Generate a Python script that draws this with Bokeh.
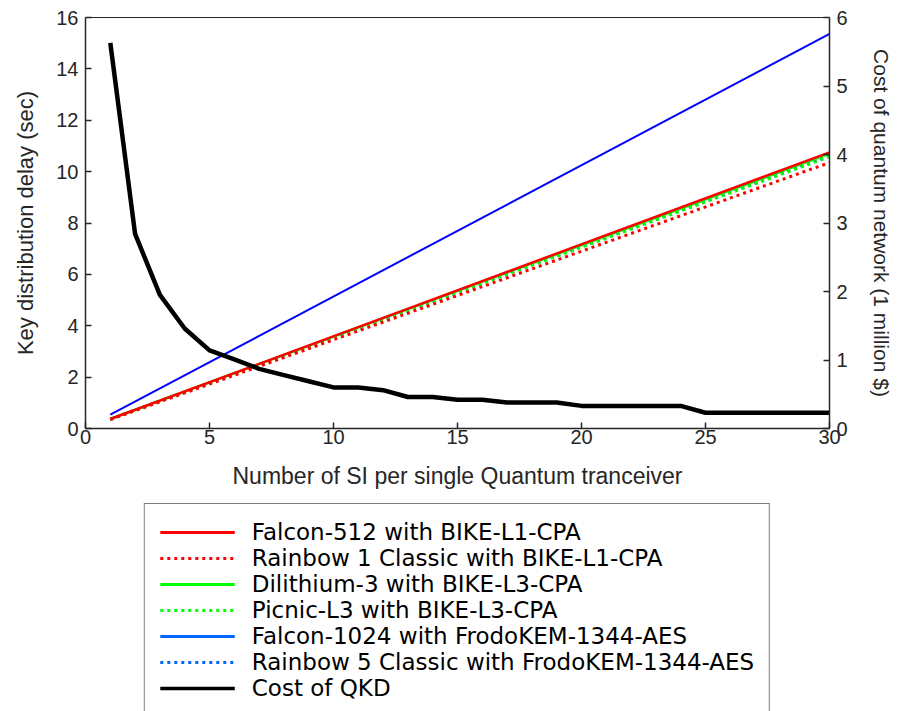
from bokeh.plotting import figure
from bokeh.layouts import column
from bokeh.models import Range1d, LinearAxis, Legend, LegendItem, FixedTicker
from bokeh.embed import file_html
from bokeh.resources import INLINE

# ---- data ----
si = list(range(1, 31))
qkd_cost = [5.63, 2.84, 1.95, 1.46, 1.14, 1.01, 0.87, 0.78, 0.69, 0.60,
            0.60, 0.56, 0.46, 0.46, 0.42, 0.42, 0.38, 0.38, 0.38, 0.33,
            0.33, 0.33, 0.33, 0.33, 0.23, 0.23, 0.23, 0.23, 0.23, 0.23]

si_ends = [1, 30]
falcon512 = [0.37, 10.75]
rainbow1 = [0.35, 10.35]
dilithium3 = [0.37, 10.70]
picnic_l3 = [0.36, 10.58]
falcon1024 = [0.54, 15.36]
rainbow5 = [0.36, 10.62]

x_ticks = [0, 5, 10, 15, 20, 25, 30]
left_ticks = [0, 2, 4, 6, 8, 10, 12, 14, 16]
right_ticks = [0, 1, 2, 3, 4, 5, 6]

labels = ["Falcon-512 with BIKE-L1-CPA",
          "Rainbow 1 Classic with BIKE-L1-CPA",
          "Dilithium-3 with BIKE-L3-CPA",
          "Picnic-L3 with BIKE-L3-CPA",
          "Falcon-1024 with FrodoKEM-1344-AES",
          "Rainbow 5 Classic with FrodoKEM-1344-AES",
          "Cost of QKD"]

AX = "#262626"
TF = "Liberation Sans"
DOT = "3 4"

p = figure(width=897, height=503, output_backend="svg", toolbar_location=None,
           x_range=Range1d(0, 30), y_range=Range1d(0, 16),
           min_border_left=85, min_border_right=68, min_border_top=17,
           min_border_bottom=75)
p.extra_y_ranges = {"cost": Range1d(0, 6)}

p.xgrid.visible = False
p.ygrid.visible = False
p.outline_line_color = AX
p.outline_line_width = 1
p.outline_line_alpha = 1
p.background_fill_color = "white"
p.border_fill_color = "white"

# delay lines (left axis)
p.line(si_ends, rainbow5, color="#0000ff", line_width=3, line_dash=DOT)
p.line(si_ends, dilithium3, color="#00ff00", line_width=2.5)
p.line(si_ends, picnic_l3, color="#00ff00", line_width=3, line_dash=DOT)
p.line(si_ends, rainbow1, color="#ff0000", line_width=3, line_dash=DOT)
p.line(si_ends, falcon512, color="#ff0000", line_width=2.5)
p.line(si_ends, falcon1024, color="#0000ff", line_width=2)
# QKD cost (right axis)
p.line(si, qkd_cost, color="black", line_width=4.5, y_range_name="cost")

def style_axis(ax, ticks, tick_size="20px", label_size="22px"):
    ax.ticker = FixedTicker(ticks=ticks)
    ax.minor_tick_line_color = None
    ax.major_tick_in = 6
    ax.major_tick_out = 0
    ax.major_tick_line_color = AX
    ax.major_tick_line_width = 1.5
    ax.axis_line_color = AX
    ax.axis_line_width = 1.5
    ax.major_label_text_font = TF
    ax.major_label_text_font_size = tick_size
    ax.major_label_text_color = AX
    ax.axis_label_text_font = TF
    ax.axis_label_text_font_size = label_size
    ax.axis_label_text_color = AX
    ax.axis_label_text_font_style = "normal"

style_axis(p.xaxis[0], x_ticks, label_size="23px")
p.xaxis[0].axis_label = "Number of SI per single Quantum tranceiver"
p.xaxis[0].major_label_standoff = 1
p.xaxis[0].axis_label_standoff = 16

style_axis(p.yaxis[0], left_ticks, label_size="22px")
p.yaxis[0].axis_label = "Key distribution delay (sec)"
p.yaxis[0].major_label_standoff = 7
p.yaxis[0].axis_label_standoff = 15

rax = LinearAxis(y_range_name="cost")
style_axis(rax, right_ticks, label_size="21px")
rax.axis_label = "Cost of quantum network (1 million $)"
rax.major_label_standoff = 7
rax.axis_label_standoff = 19
p.add_layout(rax, "right")

# ---- legend panel: a bare figure holding hidden copies of the series ----
lg = figure(width=897, height=208, output_backend="svg", toolbar_location=None,
            x_axis_location=None, y_axis_location=None,
            min_border_left=0, min_border_right=0, min_border_top=0, min_border_bottom=0)
lg.xgrid.visible = False
lg.ygrid.visible = False
lg.outline_line_color = None
lg.background_fill_color = "white"
lg.border_fill_color = "white"

leg_series = [(si_ends, falcon512, "#ff0000", None, 3), (si_ends, rainbow1, "#ff0000", DOT, 3),
              (si_ends, dilithium3, "#00ff00", None, 3), (si_ends, picnic_l3, "#00ff00", DOT, 3),
              (si_ends, falcon1024, "#0066ff", None, 3), (si_ends, rainbow5, "#0066ff", DOT, 3),
              (si, qkd_cost, "#000000", None, 3.5)]
items = []
for (xs, ys, c, d, w), lab in zip(leg_series, labels):
    kw = dict(color=c, line_width=w, visible=False)
    if d:
        kw["line_dash"] = d
    r = lg.line(xs, ys, **kw)
    items.append(LegendItem(label=lab, renderers=[r]))

legend = Legend(items=items, location="top_center", orientation="vertical",
                padding=15, spacing=0,
                label_height=26, glyph_height=26, glyph_width=75, label_standoff=17,
                label_text_font="DejaVu Sans", label_text_font_size="23px",
                label_text_color="#000000", border_line_color="#000000",
                border_line_width=1, background_fill_alpha=1, margin=0)
lg.add_layout(legend, "center")

layout = column(p, lg, spacing=0)
open("out.html", "w").write(file_html(layout, INLINE))
